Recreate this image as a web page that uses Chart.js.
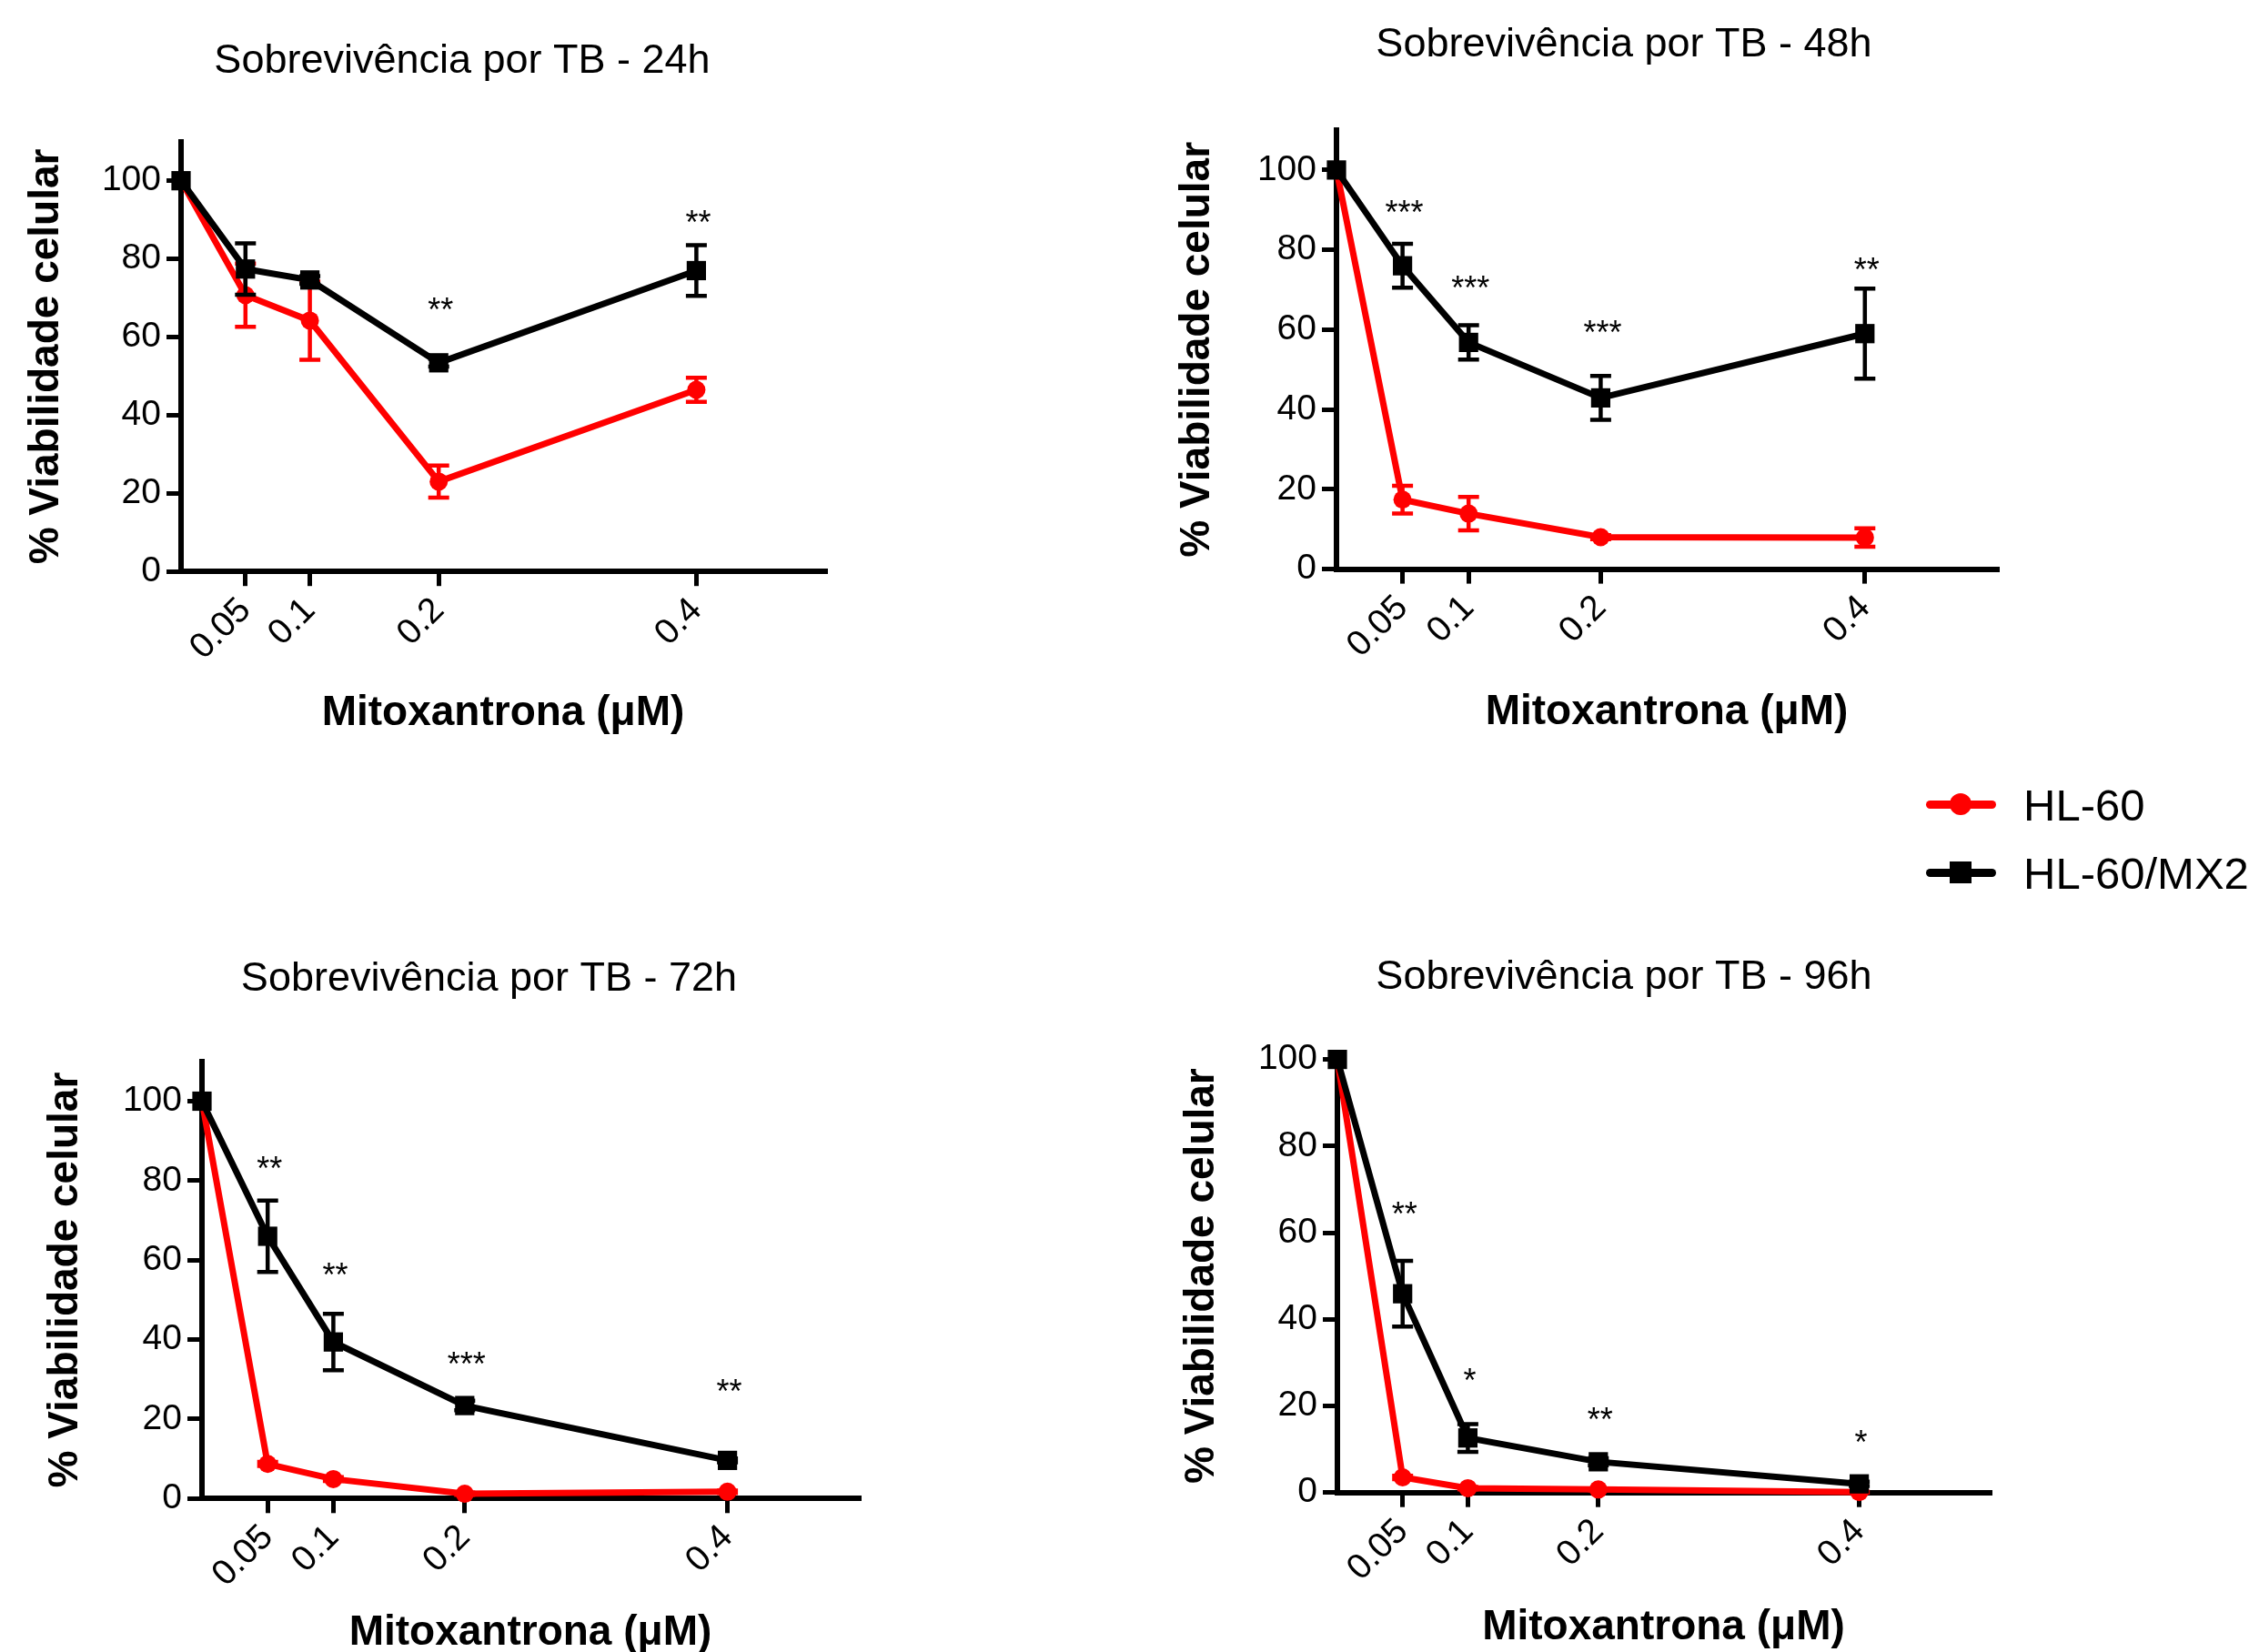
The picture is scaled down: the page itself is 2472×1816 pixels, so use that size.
<!DOCTYPE html>
<html>
<head>
<meta charset="utf-8">
<script src="https://cdn.jsdelivr.net/npm/chart.js@4/dist/chart.umd.min.js"></script>
<style>
html,body{margin:0;padding:0;background:#fff;}
body{width:2472px;height:1816px;overflow:hidden;position:relative;font-family:"Liberation Sans",Arial,sans-serif;}
canvas{position:absolute;}
.lg-line{position:absolute;height:9px;border-radius:5px;}
.lg-mark{position:absolute;}
.lg-text{position:absolute;font-size:49px;line-height:60px;color:#000;white-space:nowrap;}
</style>
</head>
<body>
<script>
// ---------- data ----------
const doses = [0, 0.05, 0.1, 0.2, 0.4];
const xTickValues = [0.05, 0.1, 0.2, 0.4];
const xTickLabels = ['0.05', '0.1', '0.2', '0.4'];
const yTickValues = [0, 20, 40, 60, 80, 100];
const yTickLabels = ['0', '20', '40', '60', '80', '100'];
const seriesNames = ['HL-60', 'HL-60/MX2'];
const seriesColors = ['#ff0000', '#000000'];
const panelTitles = ['Sobrevivência por TB - 24h', 'Sobrevivência por TB - 48h',
                     'Sobrevivência por TB - 72h', 'Sobrevivência por TB - 96h'];
const xAxisTitle = 'Mitoxantrona (μM)';
const yAxisTitle = '% Viabilidade celular';

// 24h
const hl60_24h     = [100, 70.7, 64.2, 23.0, 46.5];
const hl60_24h_sem = [0, 8.1, 10.0, 4.1, 3.1];
const mx2_24h      = [100, 77.4, 74.6, 53.4, 77.0];
const mx2_24h_sem  = [0, 6.6, 1.0, 1.0, 6.5];
const stars_24h    = ['', '', '', '**', '**'];
const starsAt_24h  = [null, null, null, 68.8, 91.3];
// 48h
const hl60_48h     = [100, 17.4, 13.9, 8.0, 7.9];
const hl60_48h_sem = [0, 3.5, 4.2, 0.5, 2.3];
const mx2_48h      = [100, 76.0, 56.8, 42.9, 59.0];
const mx2_48h_sem  = [0, 5.5, 4.3, 5.5, 11.3];
const stars_48h    = ['', '***', '***', '***', '**'];
const starsAt_48h  = [null, 91.2, 72.3, 61.2, 76.8];
// 72h
const hl60_72h     = [100, 8.7, 4.9, 1.2, 1.7];
const hl60_72h_sem = [0, 0.5, 0.5, 0.3, 0.3];
const mx2_72h      = [100, 66.0, 39.4, 23.4, 9.6];
const mx2_72h_sem  = [0, 9.0, 7.1, 1.2, 0.5];
const stars_72h    = ['', '**', '**', '***', '**'];
const starsAt_72h  = [null, 84.8, 58.1, 35.6, 28.9];
// 96h
const hl60_96h     = [100, 3.5, 1.0, 0.7, 0.1];
const hl60_96h_sem = [0, 0.4, 0.3, 0.2, 0.1];
const mx2_96h      = [100, 45.9, 12.6, 7.1, 2.0];
const mx2_96h_sem  = [0, 7.6, 3.2, 0.8, 0.5];
const stars_96h    = ['', '**', '*', '**', '*'];
const starsAt_96h  = [null, 65.9, 27.5, 18.5, 13.2];

const yMaxes = [110, 110, 110, 100];
const xMax = 0.5;

// ---------- layout (page pixels) ----------
const panelBoxes = [
  {left: 1,    top: 0,   w: 1014, h: 812, yW: 198, rW: 108, tTop: 41,  tBot: 60.7, xH: 183.8},
  {left: 1266, top: 0,   w: 1038, h: 811, yW: 203, rW: 109, tTop: 23,  tBot: 66,   xH: 185.4},
  {left: 22,   top: 908, w: 1031, h: 915, yW: 200, rW: 109, tTop: 142, tBot: 62.8, xH: 175.7},
  {left: 1271, top: 908, w: 1028, h: 909, yW: 199, rW: 112, tTop: 140, tBot: 62.6, xH: 176.3}
];

const panelData = [
  {red: hl60_24h, redErr: hl60_24h_sem, blk: mx2_24h, blkErr: mx2_24h_sem, stars: stars_24h, starsAt: starsAt_24h},
  {red: hl60_48h, redErr: hl60_48h_sem, blk: mx2_48h, blkErr: mx2_48h_sem, stars: stars_48h, starsAt: starsAt_48h},
  {red: hl60_72h, redErr: hl60_72h_sem, blk: mx2_72h, blkErr: mx2_72h_sem, stars: stars_72h, starsAt: starsAt_72h},
  {red: hl60_96h, redErr: hl60_96h_sem, blk: mx2_96h, blkErr: mx2_96h_sem, stars: stars_96h, starsAt: starsAt_96h}
];

const FONT = '"Liberation Sans", Arial, Helvetica, sans-serif';
Chart.defaults.color = '#000';
Chart.defaults.font.family = FONT;

const errorBarPlugin = {
  id: 'errorBars',
  afterDatasetDraw(chart, args) {
    const ds = chart.data.datasets[args.index];
    if (!ds.errors) return;
    const ctx = chart.ctx, xs = chart.scales.x, ys = chart.scales.y;
    ctx.save();
    ctx.strokeStyle = ds.borderColor;
    ctx.lineWidth = 4.5;
    ctx.lineCap = 'butt';
    ds.data.forEach((p, i) => {
      const e = ds.errors[i];
      if (!e) return;
      const px = xs.getPixelForValue(p.x);
      const t = ys.getPixelForValue(p.y + e);
      const b = ys.getPixelForValue(p.y - e);
      ctx.beginPath();
      ctx.moveTo(px, t); ctx.lineTo(px, b);
      ctx.moveTo(px - 11.5, t); ctx.lineTo(px + 11.5, t);
      ctx.moveTo(px - 11.5, b); ctx.lineTo(px + 11.5, b);
      ctx.stroke();
    });
    ctx.restore();
  }
};

const starsPlugin = {
  id: 'stars',
  afterDatasetsDraw(chart) {
    const o = chart.options.plugins.stars;
    if (!o) return;
    const ctx = chart.ctx, xs = chart.scales.x, ys = chart.scales.y;
    ctx.save();
    ctx.fillStyle = '#000';
    ctx.font = '36px ' + FONT;
    ctx.textAlign = 'center';
    ctx.textBaseline = 'alphabetic';
    o.labels.forEach((s, i) => {
      if (!s || o.at[i] == null) return;
      const px = xs.getPixelForValue(doses[i]);
      const py = ys.getPixelForValue(o.at[i]);
      ctx.fillText(s, px + 2, py + 0.57 * 36);
    });
    ctx.restore();
  }
};

panelBoxes.forEach((b, k) => {
  const d = panelData[k];
  const cv = document.createElement('canvas');
  cv.width = b.w; cv.height = b.h;
  cv.style.left = b.left + 'px'; cv.style.top = b.top + 'px';
  cv.style.width = b.w + 'px'; cv.style.height = b.h + 'px';
  document.body.appendChild(cv);

  new Chart(cv.getContext('2d'), {
    type: 'line',
    data: {
      datasets: [
        {
          label: seriesNames[1],
          data: doses.map((x, i) => ({x: x, y: d.blk[i]})),
          errors: d.blkErr,
          borderColor: seriesColors[1], backgroundColor: seriesColors[1],
          borderWidth: 7, pointStyle: 'rect', pointRadius: 15, pointBorderWidth: 0,
          pointBackgroundColor: seriesColors[1], tension: 0, clip: false, order: 0
        },
        {
          label: seriesNames[0],
          data: doses.map((x, i) => ({x: x, y: d.red[i]})),
          errors: d.redErr,
          borderColor: seriesColors[0], backgroundColor: seriesColors[0],
          borderWidth: 7, pointStyle: 'circle', pointRadius: 10, pointBorderWidth: 0,
          pointBackgroundColor: seriesColors[0], tension: 0, clip: false, order: 1
        }
      ]
    },
    options: {
      responsive: false,
      animation: false,
      devicePixelRatio: 1,
      layout: {padding: 0},
      plugins: {
        legend: {display: false},
        tooltip: {enabled: false},
        title: {
          display: true, text: panelTitles[k], color: '#000',
          font: {family: FONT, size: 45, weight: 'normal', lineHeight: 1.2},
          padding: {top: b.tTop, bottom: b.tBot}
        },
        stars: {labels: d.stars, at: d.starsAt}
      },
      scales: {
        x: {
          type: 'linear', position: 'bottom', min: 0, max: xMax,
          afterBuildTicks: s => { s.ticks = xTickValues.map(v => ({value: v})); },
          afterFit: s => { s.height = b.xH; },
          ticks: {
            autoSkip: false, minRotation: 45, maxRotation: 45, padding: 4, color: '#000',
            font: {family: FONT, size: 39},
            callback: (v, i) => xTickLabels[i]
          },
          grid: {display: true, drawOnChartArea: false, drawTicks: true, tickLength: 16, lineWidth: 5, color: '#000'},
          border: {display: true, color: '#000', width: 6},
          title: {display: true, text: xAxisTitle, color: '#000',
                  font: {family: FONT, size: 46, weight: 'bold', lineHeight: 1.2}, padding: {top: 0, bottom: 0}}
        },
        y: {
          type: 'linear', position: 'left', min: 0, max: yMaxes[k],
          afterBuildTicks: s => { s.ticks = yTickValues.map(v => ({value: v})); },
          afterFit: s => { s.width = b.yW; },
          ticks: {
            padding: 6, color: '#000', font: {family: FONT, size: 39},
            callback: (v, i) => yTickLabels[i]
          },
          grid: {display: true, drawOnChartArea: false, drawTicks: true, tickLength: 16, lineWidth: 5, color: '#000'},
          border: {display: true, color: '#000', width: 6},
          title: {display: true, text: yAxisTitle, color: '#000',
                  font: {family: FONT, size: 46, weight: 'bold', lineHeight: 1.2}, padding: {top: 22.4, bottom: 0}}
        },
        yR: {
          type: 'linear', position: 'right', display: true,
          afterFit: s => { s.width = b.rW; },
          ticks: {display: false},
          grid: {display: false},
          border: {display: false}
        }
      }
    },
    plugins: [errorBarPlugin, starsPlugin]
  });
});

// ---------- legend ----------
const legendRows = [884, 959];
seriesNames.forEach((name, i) => {
  const cy = legendRows[i];
  const line = document.createElement('div');
  line.className = 'lg-line';
  line.style.left = '2117px'; line.style.width = '77px';
  line.style.top = (cy - 4.5) + 'px'; line.style.background = seriesColors[i];
  document.body.appendChild(line);
  const mk = document.createElement('div');
  mk.className = 'lg-mark';
  const sz = 24;
  mk.style.width = sz + 'px'; mk.style.height = sz + 'px';
  mk.style.left = (2155 - sz / 2) + 'px'; mk.style.top = (cy - sz / 2) + 'px';
  mk.style.background = seriesColors[i];
  if (i === 0) mk.style.borderRadius = '50%';
  document.body.appendChild(mk);
  const tx = document.createElement('div');
  tx.className = 'lg-text';
  tx.style.left = '2224px'; tx.style.top = (cy - 30 + 1) + 'px';
  tx.textContent = name;
  document.body.appendChild(tx);
});
</script>
</body>
</html>
